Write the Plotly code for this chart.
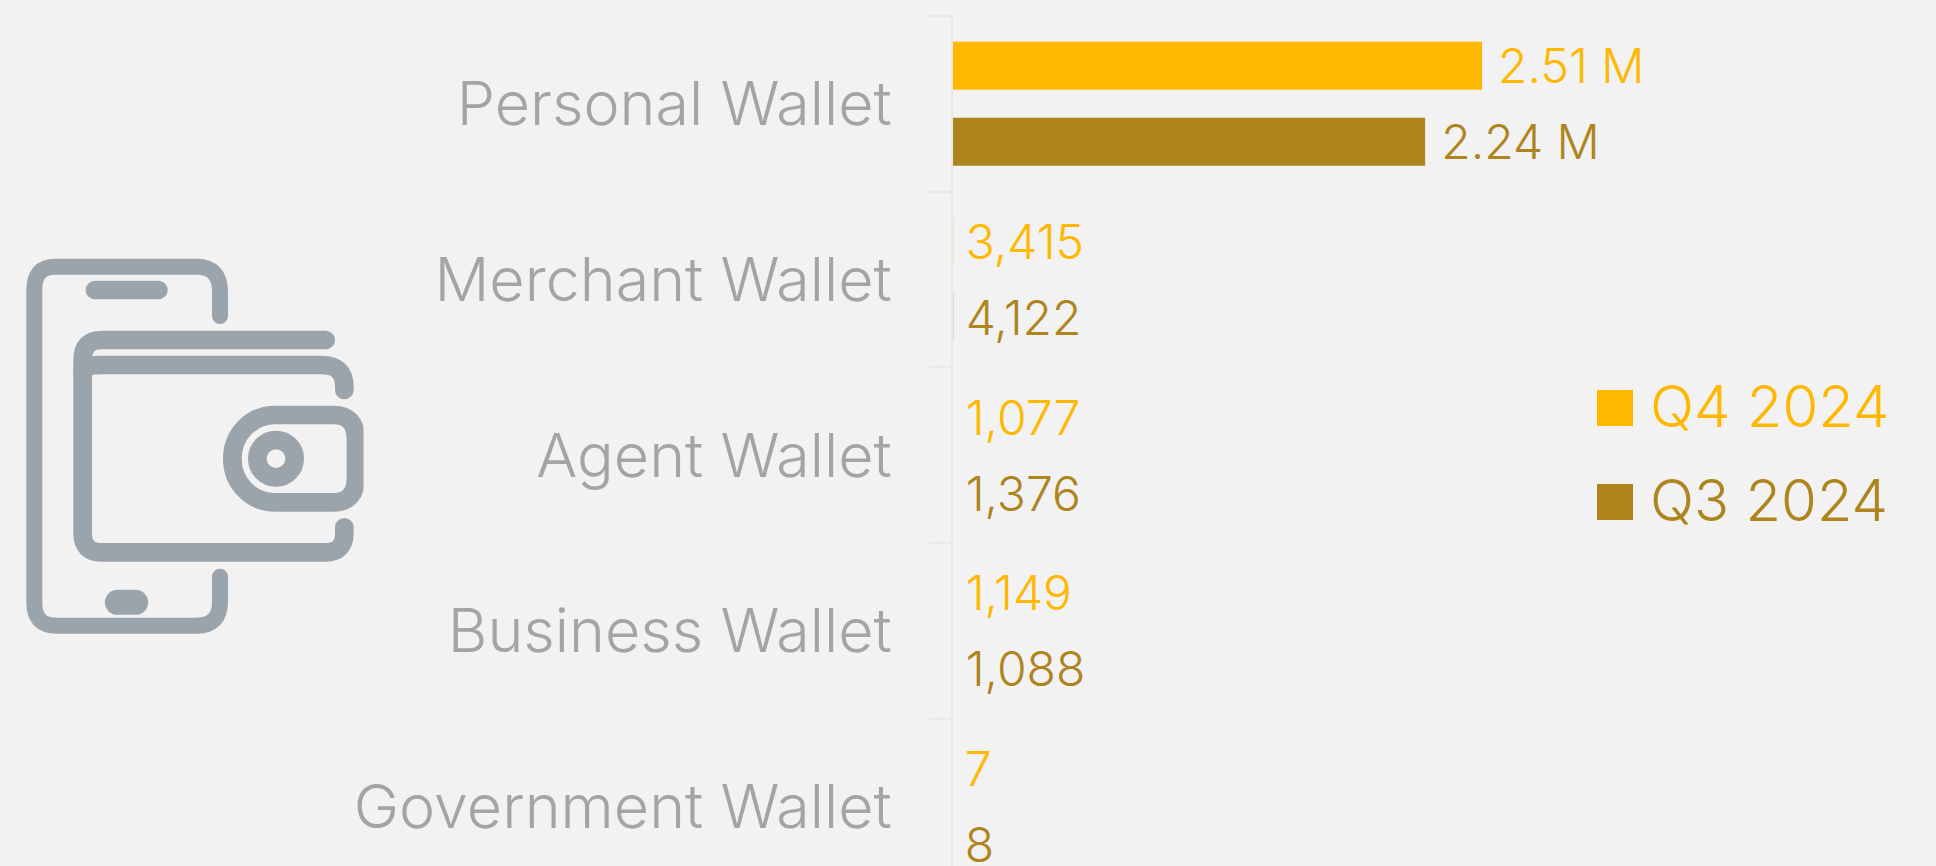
import re
import plotly.graph_objects as go

categories = ["Personal Wallet", "Merchant Wallet", "Agent Wallet", "Business Wallet", "Government Wallet"]
q4_values = [2510000, 3415, 1077, 1149, 7]
q3_values = [2240000, 4122, 1376, 1088, 8]
q4_labels = ["2.51 M", "3,415", "1,077", "1,149", "7"]
q3_labels = ["2.24 M", "4,122", "1,376", "1,088", "8"]
series_names = ["Q4 2024", "Q3 2024"]
series_colors = ["#FFB700", "#AE841D"]

W, H = 1936, 866
FONT = "Inter"
BG = "#F2F2F2"
ICON = "#9CA4AB"
AXIS = "#E9E9E9"
# bars far under one pixel wide fade out in the reference rather than snapping to a full pixel
bar_opacity = [1, 0.2, 0, 0, 0]


def px(x):
    return x / W


def py(y):
    return 1 - y / H


def icon_path(d):
    """Icon outline given in zoom-crop pixels, converted to page fractions."""
    def conv(m):
        x, y = float(m.group(1)), float(m.group(2))
        return f"{px(x / 3):.5f},{py(240 + y / 3):.5f}"
    return re.sub(r"(-?[\d.]+),(-?[\d.]+)", conv, d)


def pad(label):
    lead = "\u2009\u200a" if label.endswith("M") else "\u2009"
    return lead + label


icon_strokes = [
    ("M660,228 L660,155 Q660,80 590,80 L165,80 Q103,80 103,150 L103,1090 Q103,1157 170,1157 L590,1157 Q660,1157 660,1085 L660,1010", 16),
    ("M285,150 L475,150", 18.7),
    ("M352,1087 L407,1087", 25),
    ("M977,300 L305,300 Q248,300 248,360 L248,880 Q248,937 305,937 L975,937 Q1033,937 1033,880 L1033,862", 18.7),
    ("M248,400 Q248,375 305,375 L965,375 Q1033,375 1033,440 L1033,450", 18.7),
    ("M825,525 L1000,525 Q1068,525 1068,600 L1068,710 Q1068,787 1000,787 L825,787 C753,787 697,728 697,656 C697,584 753,525 825,525 Z", 18.7),
    ("M828,600 C797,600 772,625 772,656 C772,687 797,712 828,712 C859,712 884,687 884,656 C884,625 859,600 828,600 Z", 18.7),
]

shapes = [
    dict(type="path", path=icon_path(d), xref="paper", yref="paper",
         line=dict(color=ICON, width=w), fillcolor="rgba(0,0,0,0)", layer="above")
    for d, w in icon_strokes
]
# the icon image is cropped on its right edge
shapes.append(dict(type="rect", xref="paper", yref="paper", x0=px(363.5), x1=px(375),
                   y0=py(530), y1=py(395), fillcolor=BG, line=dict(width=0), layer="above"))

annotations = []
legend_rows = [(390, 426, 406), (484, 520, 500)]
for name, color, (y0, y1, yc) in zip(series_names, series_colors, legend_rows):
    shapes.append(dict(type="rect", xref="paper", yref="paper", x0=px(1597), x1=px(1633),
                       y0=py(y1), y1=py(y0), fillcolor=color, line=dict(width=0)))
    annotations.append(dict(text=name, xref="paper", yref="paper", x=px(1648), y=py(yc),
                            xanchor="left", yanchor="middle", showarrow=False,
                            font=dict(family=FONT, size=58, weight=300, color=color)))

fig = go.Figure()
for name, vals, labels, color in zip(series_names, [q4_values, q3_values], [q4_labels, q3_labels], series_colors):
    fig.add_bar(
        y=categories, x=vals, name=name, orientation="h",
        marker=dict(color=color, line=dict(width=0), opacity=bar_opacity),
        text=[pad(t) for t in labels], textposition="outside", cliponaxis=False, constraintext="none",
        textfont=dict(family=FONT, size=48, weight=300, color=color),
    )

fig.update_layout(
    width=W, height=H, paper_bgcolor=BG, plot_bgcolor=BG,
    margin=dict(l=0, r=0, t=0, b=0, pad=0),
    barmode="group", bargap=0.135, bargroupgap=0.368, showlegend=False,
    uniformtext=dict(mode=False),
    shapes=shapes, annotations=annotations,
    xaxis=dict(domain=[953 / W, 1], range=[0, 4664000], visible=False, automargin=False),
    yaxis=dict(domain=[0, 850 / H], type="category", categoryorder="array", categoryarray=categories,
               range=[4.338, -0.5], automargin=False, showgrid=False, zeroline=False,
               showline=True, linecolor=AXIS, linewidth=2,
               ticks="outside", tickson="boundaries", ticklen=22, tickwidth=2, tickcolor=AXIS,
               ticklabelstandoff=47,
               tickfont=dict(family=FONT, size=61, weight=300, color="#A3A5A5")),
)

fig.write_html(
    "out.html", config=dict(displayModeBar=False),
    post_script=("document.body.style.margin='0';document.body.style.overflow='hidden';"
                 "document.querySelectorAll('.shapelayer path').forEach(function(p){"
                 "p.style.strokeLinecap='round';p.style.strokeLinejoin='round';});"),
)
